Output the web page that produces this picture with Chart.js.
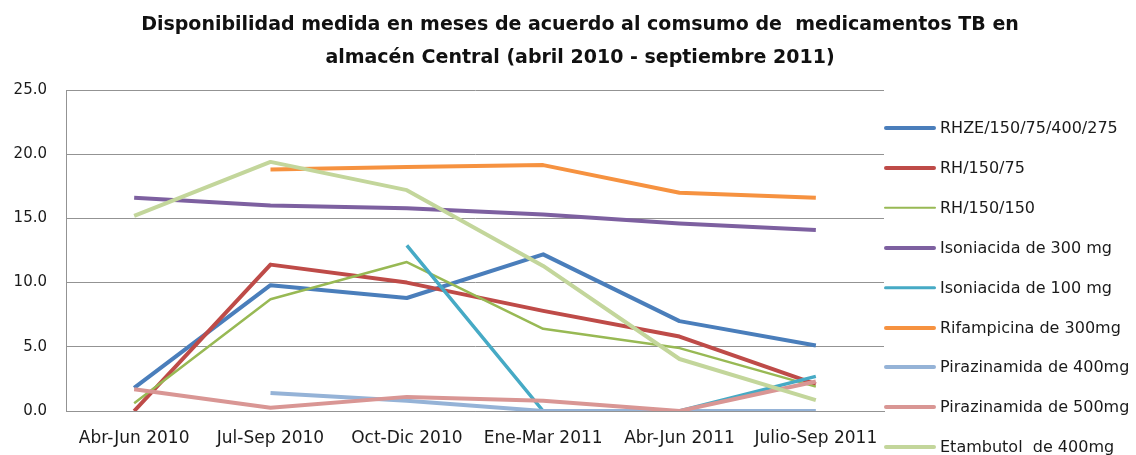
<!DOCTYPE html>
<html>
<head>
<meta charset="utf-8">
<script src="https://cdn.jsdelivr.net/npm/chart.js@4.4.1/dist/chart.umd.min.js"></script>
<style>
  html, body { margin: 0; padding: 0; background: #fff; }
  #wrap { position: relative; width: 1136px; height: 455px; overflow: hidden; }
  #chart { position: absolute; left: 0; top: 0; }
  #title { position: absolute; left: 0; width: 1160px; top: 7px; text-align: center;
           font-family: "DejaVu Sans", sans-serif; font-weight: bold; font-size: 19px;
           line-height: 33px; color: #111; white-space: pre; }
  .lg { position: absolute; left: 884px; height: 40px; width: 252px; }
  .lg .ln { position: absolute; left: 0; width: 52px; top: 50%; transform: translateY(-50%); border-radius: 2px; }
  .lg .tx { position: absolute; left: 56px; top: 0; line-height: 40px; font-family: "DejaVu Sans", sans-serif;
            font-size: 16px; color: #1a1a1a; white-space: pre; }
</style>
</head>
<body>
<div id="wrap">
  <canvas id="chart" width="1136" height="455"></canvas>
  <div id="title"></div>
  <div id="legend"></div>
</div>
<script>
const titleLines = ["Disponibilidad medida en meses de acuerdo al comsumo de  medicamentos TB en", "almacén Central (abril 2010 - septiembre 2011)"];
const categories = ["Abr-Jun 2010", "Jul-Sep 2010", "Oct-Dic 2010", "Ene-Mar 2011", "Abr-Jun 2011", "Julio-Sep 2011"];
const yTicks = [0, 5, 10, 15, 20, 25];

const seriesNames = ["RHZE/150/75/400/275", "RH/150/75", "RH/150/150", "Isoniacida de 300 mg", "Isoniacida de 100 mg", "Rifampicina de 300mg", "Pirazinamida de 400mg", "Pirazinamida de 500mg", "Etambutol  de 400mg"];
const rhze      = [1.8, 9.8, 8.8, 12.2, 7.0, 5.1];
const rh15075   = [0.0, 11.4, 10.0, 7.8, 5.8, 2.1];
const rh150150  = [0.6, 8.7, 11.6, 6.4, 4.9, 1.9];
const iso300    = [16.6, 16.0, 15.8, 15.3, 14.6, 14.1];
const iso100    = [null, null, 12.9, 0.0, 0.0, 2.7];
const rif300    = [null, 18.8, 19.0, 19.15, 17.0, 16.6];
const pir400    = [null, 1.4, 0.8, 0.0, 0.0, 0.0];
const pir500    = [1.7, 0.25, 1.1, 0.8, 0.0, 2.3];
const etam400   = [15.2, 19.4, 17.2, 11.3, 4.05, 0.85];

const seriesData = [rhze, rh15075, rh150150, iso300, iso100, rif300, pir400, pir500, etam400];
const colors = ["#4A7EBB", "#BE4B48", "#98B954", "#7D60A0", "#46AAC5", "#F69240", "#95B3D7", "#D99694", "#C3D69B"];
const widths = [4, 4, 2.5, 4, 3.5, 4, 4, 4, 4];

document.getElementById('title').textContent = titleLines.join("\n");

const datasets = seriesNames.map((name, i) => ({
  label: name,
  data: seriesData[i],
  borderColor: colors[i],
  backgroundColor: colors[i],
  borderWidth: widths[i],
  pointRadius: 0,
  pointHoverRadius: 0,
  tension: 0,
  fill: false,
  order: seriesNames.length - i,
  borderCapStyle: 'butt',
  borderJoinStyle: 'round'
}));

const gridColor = '#939393';

const chart = new Chart(document.getElementById('chart'), {
  type: 'line',
  data: { labels: categories, datasets },
  options: {
    responsive: false,
    animation: false,
    devicePixelRatio: 1,
    layout: { padding: { top: 90, right: 252, bottom: 0, left: 0 } },
    plugins: { legend: { display: false }, title: { display: false }, tooltip: { enabled: false } },
    scales: {
      x: {
        type: 'category',
        offset: true,
        grid: { display: false, drawTicks: false },
        border: { display: true, color: gridColor, width: 1 },
        ticks: { color: '#1a1a1a', font: { family: 'DejaVu Sans', size: 17 }, padding: 17, maxRotation: 0, autoSkip: false },
        afterFit: s => { s.height = 44; }
      },
      y: {
        min: 0, max: 25,
        afterBuildTicks: s => { s.ticks = yTicks.map(v => ({ value: v })); },
        grid: { color: gridColor, lineWidth: 1, drawTicks: false },
        border: { display: true, color: gridColor, width: 1 },
        ticks: { color: '#1a1a1a', font: { family: 'DejaVu Sans', size: 15 }, padding: 19,
                 callback: v => Number(v).toFixed(1) },
        afterFit: s => { s.width = 66; }
      }
    }
  }
});

// HTML legend built from the chart's datasets
const legend = document.getElementById('legend');
const legendTop = 108, legendStep = 39.9;
chart.data.datasets.forEach((ds, i) => {
  const row = document.createElement('div');
  row.className = 'lg';
  row.style.top = (legendTop + i * legendStep) + 'px';
  const ln = document.createElement('div');
  ln.className = 'ln';
  ln.style.background = ds.borderColor;
  ln.style.height = ds.borderWidth + 'px';
  const tx = document.createElement('div');
  tx.className = 'tx';
  tx.textContent = ds.label;
  row.appendChild(ln); row.appendChild(tx);
  legend.appendChild(row);
});
</script>
</body>
</html>
